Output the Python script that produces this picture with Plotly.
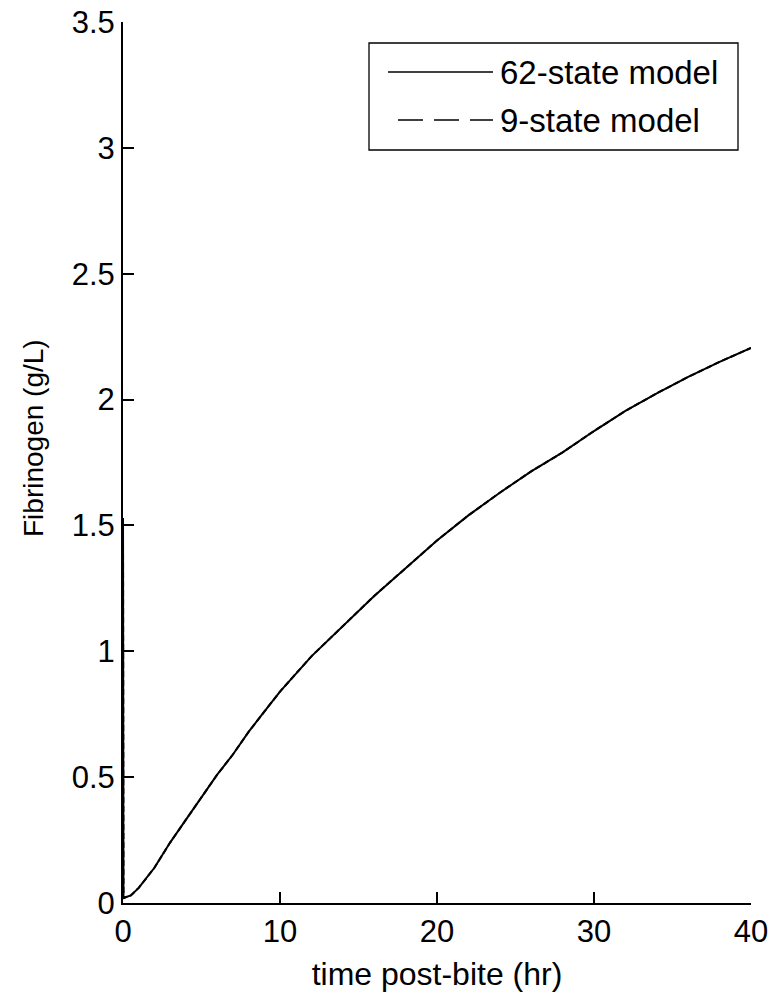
import plotly.graph_objects as go

# ---- data ----
time_62 = [0, 0.03, 0.5, 1, 2, 3, 4, 5, 6, 7, 8, 9, 10, 12, 14, 16, 18, 20,
           22, 24, 26, 28, 30, 32, 34, 36, 38, 40]
fib_62 = [1.53, 0.02, 0.03, 0.06, 0.14, 0.24, 0.33, 0.42, 0.51, 0.59, 0.68,
          0.76, 0.84, 0.98, 1.10, 1.22, 1.33, 1.44, 1.54, 1.63, 1.715, 1.79,
          1.875, 1.955, 2.025, 2.09, 2.15, 2.205]

time_9 = [0, 0.03, 0.5, 1, 2, 3, 4, 5, 6, 7, 8, 9, 10, 12, 14, 16, 18, 20,
          22, 24, 26, 28, 30, 32, 34, 36, 38, 40]
fib_9 = [1.53, 0.02, 0.03, 0.06, 0.14, 0.24, 0.33, 0.42, 0.51, 0.59, 0.68,
         0.76, 0.84, 0.98, 1.10, 1.22, 1.33, 1.44, 1.54, 1.63, 1.715, 1.79,
         1.875, 1.955, 2.025, 2.09, 2.15, 2.205]

series_names = ["62-state model", "9-state model"]
x_ticks = [0, 10, 20, 30, 40]
x_ticklabels = ["0", "10", "20", "30", "40"]
y_ticks = [0, 0.5, 1, 1.5, 2, 2.5, 3, 3.5]
y_ticklabels = ["0", "0.5", "1", "1.5", "2", "2.5", "3", "3.5"]

# ---- layout geometry ----
W, H = 769, 994
ML, MR, MT, MB = 123, 18, 22, 91
PW, PH = W - ML - MR, H - MT - MB
FONT = "Liberation Sans, Arial, sans-serif"


def px(xp):
    return (xp - ML) / PW


def py(yp):
    return (H - MB - yp) / PH


fig = go.Figure()
fig.add_trace(go.Scatter(x=time_62, y=fib_62, mode="lines", name=series_names[0],
                         line=dict(color="black", width=2), showlegend=False))
fig.add_trace(go.Scatter(x=time_9, y=fib_9, mode="lines", name=series_names[1],
                         line=dict(color="black", width=2, dash="6px,3px"),
                         showlegend=False))

# ---- legend drawn like the MATLAB one ----
shapes = [
    dict(type="rect", xref="paper", yref="paper", x0=px(369), x1=px(738),
         y0=py(150), y1=py(43), line=dict(color="black", width=1.3),
         fillcolor="white", layer="above"),
    dict(type="line", xref="paper", yref="paper", x0=px(388), x1=px(493),
         y0=py(72), y1=py(72), line=dict(color="black", width=1.6), layer="above"),
    dict(type="line", xref="paper", yref="paper", x0=px(398), x1=px(493),
         y0=py(120), y1=py(120),
         line=dict(color="black", width=1.6, dash="25px,11px"), layer="above"),
]
annotations = [
    dict(xref="paper", yref="paper", x=px(498), y=py(73), text=series_names[0],
         showarrow=False, xanchor="left", yanchor="middle",
         font=dict(family=FONT, size=33, color="black")),
    dict(xref="paper", yref="paper", x=px(498), y=py(121), text=series_names[1],
         showarrow=False, xanchor="left", yanchor="middle",
         font=dict(family=FONT, size=33, color="black")),
    dict(xref="paper", yref="paper", x=px(33), y=py(438), text="Fibrinogen (g/L)",
         textangle=-90, showarrow=False, xanchor="center", yanchor="middle",
         font=dict(family=FONT, size=28, color="black")),
]

axis_common = dict(showline=True, linecolor="black", linewidth=2, mirror=False,
                   ticks="inside", ticklen=11, tickwidth=2, tickcolor="black",
                   showgrid=False, zeroline=False, automargin=False,
                   tickfont=dict(family=FONT, size=31, color="black"))

fig.update_layout(
    width=W, height=H,
    margin=dict(l=ML, r=MR, t=MT, b=MB, pad=0, autoexpand=False),
    paper_bgcolor="white", plot_bgcolor="white",
    showlegend=False,
    shapes=shapes, annotations=annotations,
    xaxis=dict(range=[0, 40], tickvals=x_ticks, ticktext=x_ticklabels,
               title=dict(text="time post-bite (hr)", standoff=14,
                          font=dict(family=FONT, size=32, color="black")),
               **axis_common),
    yaxis=dict(range=[0, 3.5], tickvals=y_ticks, ticktext=y_ticklabels,
               **axis_common),
)

fig.write_html("out.html")
